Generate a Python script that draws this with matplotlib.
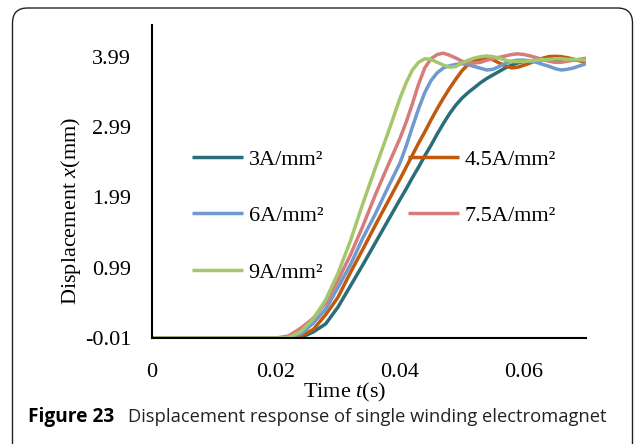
import matplotlib.pyplot as plt
from matplotlib.patches import FancyBboxPatch
from matplotlib.transforms import IdentityTransform

plt.rcParams['font.family'] = ['Liberation Serif', 'DejaVu Serif']
plt.rcParams['mathtext.fontset'] = 'custom'
plt.rcParams['mathtext.rm'] = 'Liberation Serif'
plt.rcParams['mathtext.it'] = 'Liberation Serif:italic'

# time axis (s)
time_s = [0, 0.010, 0.020, 0.022, 0.024, 0.026, 0.028, 0.030, 0.032, 0.034,
          0.036, 0.038, 0.040, 0.041, 0.042, 0.043, 0.044, 0.045, 0.046, 0.047,
          0.048, 0.049, 0.050, 0.051, 0.052, 0.053, 0.054, 0.055, 0.056, 0.057,
          0.058, 0.059, 0.060, 0.061, 0.062, 0.063, 0.064, 0.065, 0.066, 0.067,
          0.068, 0.069, 0.070]

# displacement (mm) for each current density
disp_3 = [-0.01, -0.01, -0.01, -0.01, -0.003, 0.075, 0.19, 0.43, 0.73, 1.03,
          1.34, 1.65, 1.96, 2.11, 2.27, 2.42, 2.58, 2.73, 2.89, 3.04,
          3.18, 3.30, 3.40, 3.48, 3.55, 3.62, 3.68, 3.73, 3.78, 3.83,
          3.87, 3.90, 3.92, 3.93, 3.94, 3.945, 3.945, 3.945, 3.94, 3.94,
          3.94, 3.94, 3.94]
disp_45 = [-0.01, -0.01, -0.01, -0.01, 0.018, 0.11, 0.32, 0.57, 0.92, 1.25,
           1.59, 1.92, 2.25, 2.42, 2.59, 2.76, 2.92, 3.09, 3.25, 3.40,
           3.54, 3.67, 3.79, 3.88, 3.93, 3.955, 3.965, 3.945, 3.90, 3.86,
           3.83, 3.84, 3.868, 3.90, 3.94, 3.967, 3.99, 3.995, 3.99, 3.975,
           3.953, 3.93, 3.91]
disp_6 = [-0.01, -0.01, -0.01, -0.01, 0.047, 0.20, 0.40, 0.71, 1.03, 1.41,
          1.75, 2.12, 2.48, 2.72, 2.99, 3.25, 3.48, 3.65, 3.76, 3.83,
          3.86, 3.88, 3.89, 3.875, 3.85, 3.825, 3.80, 3.81, 3.85, 3.896,
          3.925, 3.94, 3.94, 3.93, 3.91, 3.88, 3.854, 3.82, 3.80, 3.81,
          3.83, 3.86, 3.89]
disp_75 = [-0.01, -0.01, -0.01, 0.018, 0.13, 0.27, 0.49, 0.81, 1.17, 1.58,
           2.02, 2.43, 2.83, 3.06, 3.32, 3.60, 3.83, 3.96, 4.02, 4.04,
           4.01, 3.97, 3.925, 3.90, 3.90, 3.91, 3.94, 3.96, 3.98, 4.00,
           4.02, 4.03, 4.02, 4.00, 3.975, 3.953, 3.925, 3.91, 3.91, 3.925,
           3.94, 3.953, 3.967]
disp_9 = [-0.01, -0.01, -0.01, -0.005, 0.08, 0.26, 0.53, 0.91, 1.37, 1.90,
          2.40, 2.89, 3.40, 3.62, 3.80, 3.91, 3.96, 3.95, 3.91, 3.87,
          3.84, 3.85, 3.90, 3.94, 3.97, 3.99, 4.00, 3.99, 3.97, 3.94,
          3.92, 3.92, 3.92, 3.93, 3.94, 3.945, 3.95, 3.96, 3.96, 3.95,
          3.95, 3.945, 3.94]

series_labels = ['3A/mm²', '4.5A/mm²', '6A/mm²', '7.5A/mm²', '9A/mm²']
series_colors = ['#2A6E7C', '#C05A0C', '#6E9ACF', '#D77B7B', '#A5C76C']

x_ticks = [0, 0.02, 0.04, 0.06]
x_tick_labels = ['0', '0.02', '0.04', '0.06']
y_ticks = [-0.01, 0.99, 1.99, 2.99, 3.99]
y_tick_labels = ['-0.01', '0.99', '1.99', '2.99', '3.99']

fig = plt.figure(figsize=(6.35, 4.44), dpi=100)
ax = fig.add_axes([152 / 635, 1 - 338 / 444, (586 - 152) / 635, (338 - 25) / 444])

lines = []
for vals, lab, col in zip([disp_3, disp_45, disp_6, disp_75, disp_9],
                          series_labels, series_colors):
    ln, = ax.plot(time_s, vals, color=col, lw=2.5, label=lab,
                  solid_joinstyle='round', solid_capstyle='butt')
    lines.append(ln)

ax.set_xlim(0, 0.07)
ax.set_ylim(-0.01, 4.44)
ax.set_xticks(x_ticks)
ax.set_xticklabels(x_tick_labels)
ax.set_yticks(y_ticks)
ax.set_yticklabels(y_tick_labels)
ax.tick_params(axis='both', length=0, labelsize=16)
ax.tick_params(axis='y', pad=15)
ax.tick_params(axis='x', pad=18)
for s in ['top', 'right']:
    ax.spines[s].set_visible(False)
for s in ['left', 'bottom']:
    ax.spines[s].set_linewidth(1.5)
    ax.spines[s].set_color('black')

# legend: two columns, filled row by row
order = [0, 2, 4, 1, 3]
ax.legend([lines[i] for i in order], [series_labels[i] for i in order],
          ncol=2, frameon=False, loc='upper left',
          bbox_to_anchor=(192 / 635, 1 - 149 / 444), bbox_transform=fig.transFigure,
          borderpad=0, borderaxespad=0, handlelength=2.3, handletextpad=0.25,
          columnspacing=3.8, labelspacing=1.62, fontsize=16)

fig.text(345 / 635, 1 - 392 / 444, 'Time $t$(s)', fontsize=16, ha='center', va='center')
fig.text(71 / 635, 1 - 211 / 444, 'Displacement $x$(mm)', fontsize=16,
         rotation=90, ha='center', va='center')

# caption
cap = fig.text(28 / 635, 1 - 422 / 444, 'Figure 23', fontfamily='Open Sans',
               fontweight='bold', fontsize=13.8, va='baseline')
fig.text(128 / 635, 1 - 422 / 444, 'Displacement response of single winding electromagnet',
         fontfamily='Open Sans', fontsize=13.2, va='baseline', color='#222222')

# rounded frame around the figure
frame = FancyBboxPatch((12.5, -20), 620, 456, boxstyle='round,pad=0,rounding_size=15',
                       transform=IdentityTransform(), fill=False,
                       edgecolor='#222222', linewidth=1.0)
fig.patches.append(frame)

fig.savefig('out.png', dpi=100)
